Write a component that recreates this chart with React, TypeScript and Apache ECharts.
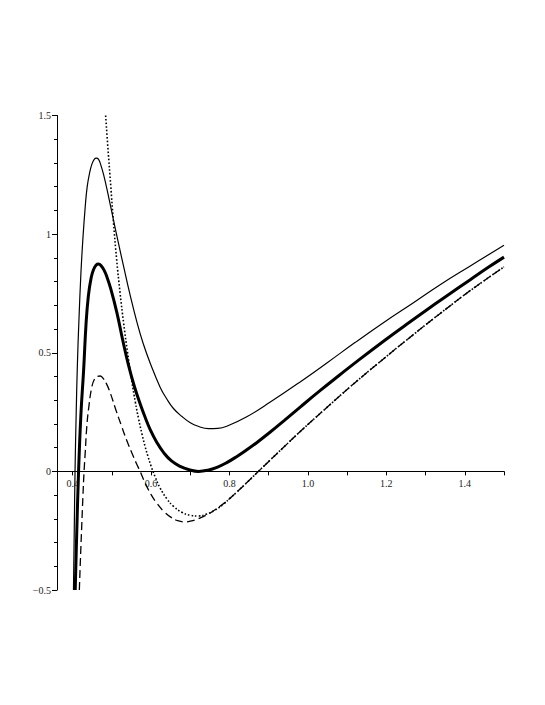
import React, { useEffect, useRef } from "react";
import * as echarts from "echarts";

// Thin solid curve
const thinX = [0.402, 0.404, 0.406, 0.409, 0.412, 0.416, 0.421, 0.426, 0.432, 0.437, 0.443, 0.449, 0.455, 0.46, 0.466, 0.472, 0.479, 0.49, 0.504, 0.517, 0.53, 0.547, 0.564, 0.58, 0.598, 0.623, 0.64, 0.657, 0.678, 0.7, 0.72, 0.746, 0.77, 0.793, 0.844, 0.904, 0.981, 1.05, 1.12, 1.197, 1.27, 1.34, 1.414, 1.5];
const thinY = [-0.5, -0.25, 0.0, 0.25, 0.45, 0.64, 0.835, 0.98, 1.116, 1.2, 1.257, 1.295, 1.315, 1.32, 1.315, 1.29, 1.25, 1.17, 1.06, 0.96, 0.863, 0.74, 0.628, 0.538, 0.455, 0.355, 0.305, 0.265, 0.232, 0.205, 0.19, 0.18, 0.181, 0.19, 0.23, 0.292, 0.378, 0.459, 0.543, 0.632, 0.712, 0.79, 0.866, 0.953];

// Thick solid curve
const thickX = [0.4065, 0.41, 0.415, 0.421, 0.428, 0.434, 0.44, 0.447, 0.453, 0.46, 0.466, 0.473, 0.48, 0.487, 0.497, 0.513, 0.527, 0.542, 0.557, 0.572, 0.585, 0.598, 0.615, 0.632, 0.652, 0.674, 0.697, 0.721, 0.745, 0.768, 0.793, 0.819, 0.845, 0.87, 0.904, 0.94, 0.981, 1.03, 1.08, 1.13, 1.197, 1.25, 1.3, 1.35, 1.414, 1.46, 1.5];
const thickY = [-0.5, -0.28, 0.0, 0.24, 0.43, 0.62, 0.74, 0.815, 0.85, 0.87, 0.874, 0.866, 0.848, 0.821, 0.77, 0.667, 0.558, 0.45, 0.36, 0.285, 0.227, 0.175, 0.121, 0.079, 0.044, 0.021, 0.007, 0.0, 0.005, 0.017, 0.037, 0.063, 0.092, 0.122, 0.166, 0.215, 0.272, 0.339, 0.405, 0.47, 0.554, 0.618, 0.677, 0.735, 0.808, 0.86, 0.903];

// Dashed curve
const dashX = [0.417, 0.42, 0.423, 0.426, 0.429, 0.432, 0.436, 0.441, 0.449, 0.456, 0.463, 0.47, 0.477, 0.486, 0.496, 0.51, 0.525, 0.538, 0.551, 0.562, 0.572, 0.585, 0.6, 0.615, 0.632, 0.652, 0.668, 0.685, 0.7, 0.72, 0.74, 0.76, 0.78, 0.8, 0.82, 0.845, 0.87, 0.9, 0.94, 0.981, 1.05, 1.12, 1.197, 1.27, 1.34, 1.414, 1.5];
const dashY = [-0.5, -0.36, -0.233, -0.11, 0.0, 0.08, 0.189, 0.27, 0.357, 0.39, 0.4, 0.402, 0.393, 0.37, 0.33, 0.26, 0.189, 0.13, 0.077, 0.035, 0.0, -0.05, -0.098, -0.135, -0.168, -0.195, -0.208, -0.213, -0.21, -0.2, -0.185, -0.165, -0.142, -0.115, -0.085, -0.046, -0.006, 0.042, 0.105, 0.169, 0.272, 0.374, 0.48, 0.578, 0.669, 0.762, 0.862];

// Dotted curve
const dotX = [0.484, 0.49, 0.497, 0.504, 0.512, 0.521, 0.53, 0.54, 0.551, 0.56, 0.568, 0.577, 0.585, 0.592, 0.6, 0.61, 0.623, 0.64, 0.657, 0.678, 0.7, 0.72, 0.742, 0.763, 0.785, 0.8, 0.82, 0.845, 0.87, 0.9, 0.94, 0.981, 1.05, 1.12, 1.197, 1.27, 1.34, 1.414, 1.5];
const dotY = [1.5, 1.36, 1.205, 1.05, 0.895, 0.75, 0.624, 0.5, 0.378, 0.29, 0.222, 0.155, 0.103, 0.063, 0.022, -0.022, -0.07, -0.115, -0.147, -0.172, -0.185, -0.188, -0.18, -0.163, -0.138, -0.115, -0.085, -0.046, -0.006, 0.042, 0.105, 0.169, 0.272, 0.374, 0.48, 0.578, 0.669, 0.762, 0.862];

const xTicks = [0.4, 0.5, 0.6, 0.7, 0.8, 0.9, 1.0, 1.1, 1.2, 1.3, 1.4, 1.5];
const xLabels = [0.4, 0.6, 0.8, 1.0, 1.2, 1.4];
const yLabels: Record<string, string> = { "-0.5": "\u22120.5", "0": "0", "0.5": "0.5", "1": "1", "1.5": "1.5" };

const Y_MIN = -0.5;
const Y_MAX = 1.5;

const pairs = (xs: number[], ys: number[]) => xs.map((x, i) => [x, ys[i]]);

const labelFont = {
  fontFamily: "Liberation Serif, Times New Roman, serif",
  fontSize: 10,
  color: "#222",
};

const GRID_TOP = 115.5;
const GRID_BOTTOM = 115;
const H = 705;

export default function App() {
  const ref = useRef<HTMLDivElement>(null);
  useEffect(() => {
    if (!ref.current) return;
    const chart = echarts.init(ref.current, undefined, { renderer: "svg" });
    const gridH = H - GRID_TOP - GRID_BOTTOM;
    // distance from grid bottom to the y = 0 line
    const zeroOffset = (gridH * (0 - Y_MIN)) / (Y_MAX - Y_MIN);
    const baseLine = (data: number[][], width: number, type: any) => ({
      type: "line",
      data,
      showSymbol: false,
      symbol: "none",
      smooth: 0.45,
      clip: true,
      lineStyle: { color: "#000", width, type, cap: "butt" },
      silent: true,
      z: 3,
    });
    chart.setOption({
      animation: false,
      backgroundColor: "#fff",
      grid: { left: 57, right: 41, top: GRID_TOP, bottom: GRID_BOTTOM, containLabel: false },
      xAxis: {
        type: "value",
        min: 0.36,
        max: 1.5,
        position: "bottom",
        offset: -zeroOffset,
        axisLine: { onZero: false, lineStyle: { color: "#000", width: 1 } },
        axisTick: { show: true, inside: false, length: 4, customValues: xTicks, lineStyle: { color: "#000" } },
        axisLabel: {
          show: true,
          margin: 7,
          customValues: xLabels,
          formatter: (v: number) => v.toFixed(1),
          ...labelFont,
        },
        splitLine: { show: false },
      },
      yAxis: {
        type: "value",
        min: Y_MIN,
        max: Y_MAX,
        interval: 0.5,
        axisLine: { show: true, onZero: false, lineStyle: { color: "#000", width: 1 } },
        axisTick: { show: true, length: 5, lineStyle: { color: "#000" } },
        minorTick: { show: true, splitNumber: 5, length: 3, lineStyle: { color: "#000" } },
        axisLabel: {
          margin: 6,
          formatter: (v: number) => yLabels[String(v)] ?? String(v),
          ...labelFont,
        },
        splitLine: { show: false },
      },
      series: [
        baseLine(pairs(thinX, thinY), 1.2, "solid"),
        baseLine(pairs(thickX, thickY), 3, "solid"),
        baseLine(pairs(dashX, dashY), 1.3, [8, 4]),
        baseLine(pairs(dotX, dotY), 1.6, [1.6, 2]),
      ],
    });
    return () => chart.dispose();
  }, []);
  return <div ref={ref} style={{ position: "fixed", left: 0, top: 0, width: 545, height: 705 }} />;
}
